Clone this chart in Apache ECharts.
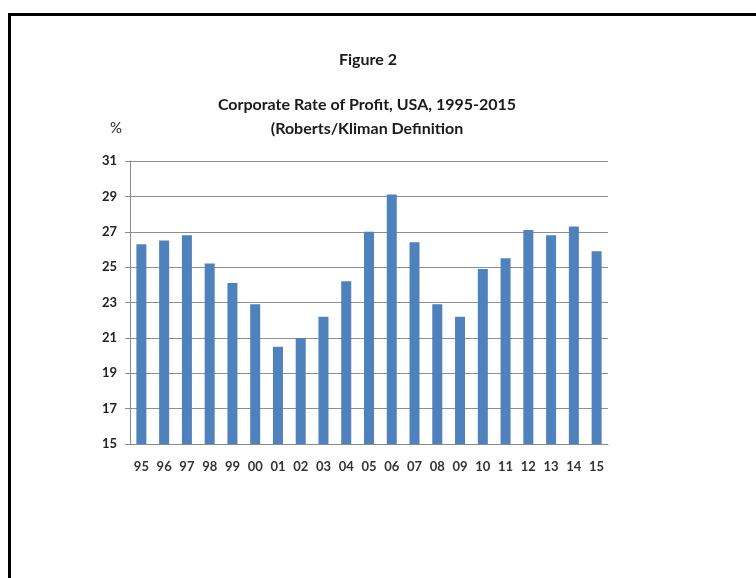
<!DOCTYPE html>
<html>
<head>
<meta charset="utf-8">
<script src="https://cdn.jsdelivr.net/npm/echarts@6/dist/echarts.min.js"></script>
<style>
  html, body { margin: 0; padding: 0; background: #fff; }
  #chart { position: absolute; left: 0; top: 0; width: 756px; height: 578px; }
  #frame {
    position: absolute; left: 8px; top: 13px; right: 0; bottom: 0;
    border-left: 3px solid #000; border-top: 3px solid #000;
    pointer-events: none;
  }
</style>
</head>
<body>
<div id="chart"></div>
<div id="frame"></div>
<script>
  // years shown on the x axis
  const years = ['95', '96', '97', '98', '99', '00', '01', '02', '03', '04', '05',
    '06', '07', '08', '09', '10', '11', '12', '13', '14', '15'];
  // rate of profit, %
  const profitRate = [26.3, 26.5, 26.8, 25.2, 24.1, 22.9, 20.5, 21.0, 22.2, 24.2, 27.0,
    29.1, 26.4, 22.9, 22.2, 24.9, 25.5, 27.1, 26.8, 27.3, 25.9];
  const yMin = 15;
  const yMax = 31;
  const yStep = 2;

  const font = 'Lato, "Open Sans", sans-serif';
  const chart = echarts.init(document.getElementById('chart'));

  chart.setOption({
    animation: false,
    textStyle: { fontFamily: font },
    title: [
      {
        text: 'Figure 2',
        left: 363, top: 47, textAlign: 'center',
        textStyle: { fontFamily: font, fontSize: 16, fontWeight: 'bold', color: '#1a1a1a' }
      },
      {
        text: 'Corporate Rate of Profit, USA, 1995-2015\n(Roberts/Kliman Definition',
        left: 362, top: 88, textAlign: 'center',
        textStyle: { fontFamily: font, fontSize: 16, fontWeight: 'bold', color: '#1a1a1a', lineHeight: 24 }
      },
      {
        text: '%',
        left: 111, top: 116, textAlign: 'center',
        textStyle: { fontFamily: font, fontSize: 15, fontWeight: 'normal', color: '#222' }
      }
    ],
    grid: { left: 130, right: 148, top: 161, bottom: 134 },
    xAxis: {
      type: 'category',
      data: years,
      axisLine: { lineStyle: { color: '#8a8a8a', width: 1 } },
      axisTick: { show: false },
      axisLabel: { color: '#333', fontSize: 13, fontWeight: 'bold', margin: 16, interval: 0 }
    },
    yAxis: {
      type: 'value',
      min: yMin, max: yMax, interval: yStep,
      axisLine: { show: true, lineStyle: { color: '#8a8a8a', width: 1 } },
      axisTick: { show: true, length: 5, lineStyle: { color: '#8a8a8a' } },
      axisLabel: { color: '#222', fontSize: 13, fontWeight: 'bold', margin: 13 },
      splitLine: { lineStyle: { color: '#8e8e8e', width: 1 } }
    },
    series: [{
      type: 'bar',
      data: profitRate,
      barWidth: 10,
      itemStyle: { color: '#4f81bd' }
    }]
  });
</script>
</body>
</html>
